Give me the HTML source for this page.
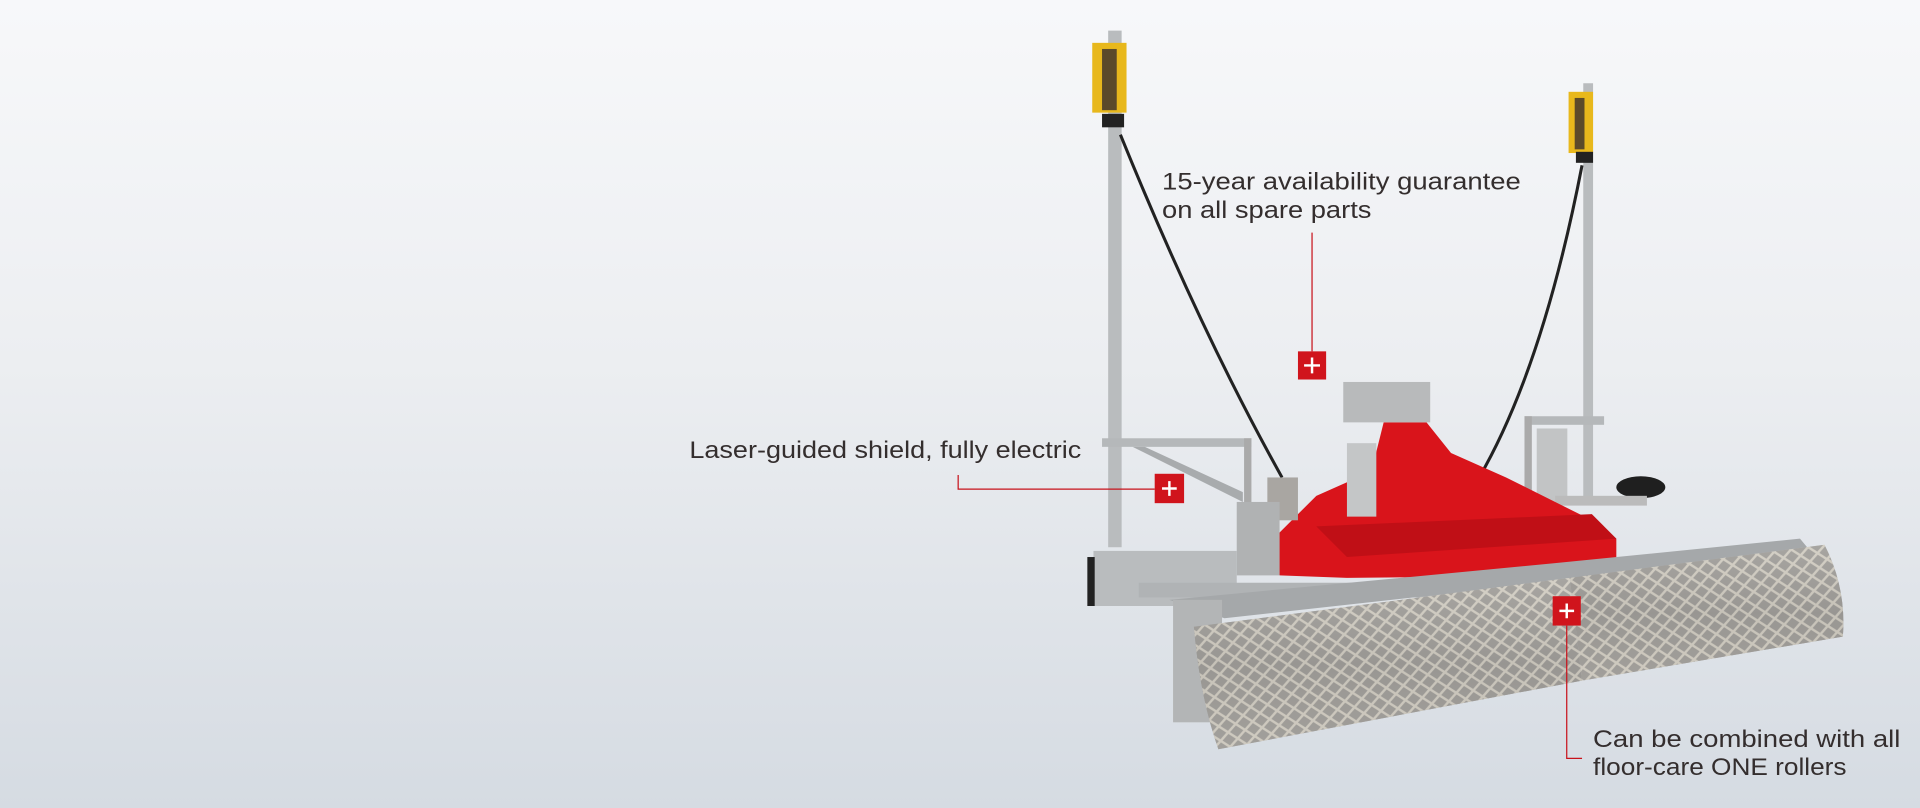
<!DOCTYPE html>
<html><head><meta charset="utf-8"><style>
html,body{margin:0;padding:0;width:1920px;height:808px;overflow:hidden;}
body{background:linear-gradient(#f7f8fa,#eceef1 45%,#d5dbe2);}
svg{position:absolute;left:0;top:0;}
text{font-family:"Liberation Sans",sans-serif;fill:#342e2e;}
</style></head><body>
<svg width="1920" height="808" viewBox="0 0 1568 660" preserveAspectRatio="none">
<defs>
<pattern id="mesh" width="14" height="12" patternUnits="userSpaceOnUse" patternTransform="rotate(-8)">
<rect width="14" height="12" fill="#9c9a96"/>
<path d="M0 0L14 12M14 0L0 12" stroke="#d9d4c8" stroke-width="2"/>
</pattern>
<linearGradient id="roll" x1="0" y1="0" x2="0" y2="1">
<stop offset="0" stop-color="#c8c6c2"/><stop offset=".5" stop-color="#8d8b88"/><stop offset="1" stop-color="#b3b0aa"/>
</linearGradient>
</defs>
<rect x="905" y="25" width="11" height="422" fill="#b9bcbe"/>
<rect x="892" y="35" width="28" height="57" fill="#e8b81c"/>
<rect x="900" y="40" width="12" height="50" fill="#5b4a2a"/>
<rect x="900" y="93" width="18" height="11" fill="#222"/>
<rect x="1293" y="68" width="8" height="342" fill="#b9bcbe"/>
<rect x="1281" y="75" width="20" height="50" fill="#e8b81c"/>
<rect x="1286" y="80" width="8" height="42" fill="#5b4a2a"/>
<rect x="1287" y="124" width="14" height="9" fill="#222"/>
<path d="M915 110 Q980 270 1047 390" stroke="#222" stroke-width="2.5" fill="none"/>
<path d="M1292 135 Q1260 300 1208 390" stroke="#222" stroke-width="2.5" fill="none"/>
<rect x="900" y="358" width="122" height="7" fill="#b5b8ba"/>
<path d="M925 365 L1015 410 L1015 402 L935 365Z" fill="#a8abad"/>
<rect x="1016" y="358" width="6" height="60" fill="#aaa"/>
<rect x="1245" y="340" width="65" height="7" fill="#b5b8ba"/>
<rect x="1245" y="340" width="6" height="70" fill="#aaa"/>
<rect x="1255" y="350" width="25" height="60" fill="#c2c4c5"/>
<ellipse cx="1340" cy="398" rx="20" ry="9" fill="#1f1f1f"/>
<rect x="1270" y="405" width="75" height="8" fill="#bbb"/>
<path d="M1040 440 L1075 405 L1120 385 L1130 345 L1165 345 L1185 370 L1230 390 L1300 425 L1320 440 L1320 470 L1100 472 L1045 470Z" fill="#d9141b"/>
<path d="M1075 430 L1300 420 L1320 440 L1100 455Z" fill="#c00f16"/>
<rect x="1097" y="312" width="71" height="33" fill="#b8babb"/>
<rect x="1100" y="362" width="24" height="60" fill="#c4c6c7"/>
<rect x="1035" y="390" width="25" height="35" fill="#a9a6a2"/>
<rect x="1010" y="410" width="35" height="60" fill="#b0b2b3"/>
<rect x="893" y="450" width="117" height="45" fill="#b9bcbe"/>
<rect x="888" y="455" width="6" height="40" fill="#222"/>
<rect x="930" y="476" width="370" height="12" fill="#b0b3b5"/>
<path d="M955 490 L1270 460 L1470 440 L1480 452 L1000 505Z" fill="#a5a8aa"/>
<rect x="958" y="490" width="40" height="100" fill="#b3b5b6"/>
<path d="M975 512 L1282 472 L1292 556 L995 612 Q980 570 975 512Z" fill="url(#roll)"/>
<path d="M975 512 L1282 472 L1292 556 L995 612 Q980 570 975 512Z" fill="url(#mesh)" opacity=".75"/>
<path d="M1282 472 L1490 445 Q1508 480 1505 520 L1292 556Z" fill="url(#roll)"/>
<path d="M1282 472 L1490 445 Q1508 480 1505 520 L1292 556Z" fill="url(#mesh)" opacity=".75"/>
<g stroke="#c8121b" stroke-width="1" fill="none">
<path d="M1071.5 190 V287"/>
<path d="M782.5 388 V399.5 H943"/>
<path d="M1279.5 511 V619.5 H1292"/>
</g>
<g fill="#d0141c">
<rect x="1060" y="287" width="23" height="23"/>
<rect x="943" y="387" width="24" height="24"/>
<rect x="1268" y="487" width="23" height="24"/>
</g>
<g stroke="#fff" stroke-width="2">
<path d="M1071.5 292V305M1065 298.5H1078"/>
<path d="M955 393V405M949 399H961"/>
<path d="M1279.5 493V505M1273.5 499H1285.5"/>
</g>
<g font-size="20" lengthAdjust="spacingAndGlyphs">
<text x="949" y="155" textLength="293" lengthAdjust="spacingAndGlyphs">15-year availability guarantee</text>
<text x="949" y="178" textLength="171" lengthAdjust="spacingAndGlyphs">on all spare parts</text>
<text x="563" y="374" textLength="320" lengthAdjust="spacingAndGlyphs">Laser-guided shield, fully electric</text>
<text x="1301" y="610" textLength="251" lengthAdjust="spacingAndGlyphs">Can be combined with all</text>
<text x="1301" y="633" textLength="207" lengthAdjust="spacingAndGlyphs">floor-care ONE rollers</text>
</g>
</svg>
</body></html>
